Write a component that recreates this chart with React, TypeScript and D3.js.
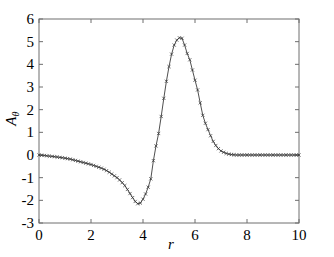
import { useRef, useEffect } from 'react';
import * as d3 from 'd3';

const rValues = d3.range(0, 101).map(i => i / 10);
const aTheta = [
  0, -0.01, -0.02, -0.035, -0.05, -0.06, -0.075, -0.09, -0.105, -0.12,
  -0.14, -0.16, -0.18, -0.21, -0.24, -0.27, -0.3, -0.33, -0.36, -0.39,
  -0.42, -0.46, -0.5, -0.54, -0.58, -0.63, -0.69, -0.76, -0.84, -0.92,
  -1.0, -1.1, -1.22, -1.35, -1.52, -1.7, -1.88, -2.05, -2.15, -2.12,
  -1.95, -1.72, -1.42, -1.05, -0.25, 0.4, 0.95, 1.7, 2.5, 3.25,
  3.9, 4.45, 4.85, 5.07, 5.17, 5.15, 4.85, 4.48, 4.2, 3.75,
  3.3, 2.87, 2.3, 1.75, 1.4, 1.12, 0.85, 0.6, 0.42, 0.28,
  0.18, 0.12, 0.07, 0.04, 0.02, 0.01, 0, 0, 0, 0,
  0, 0, 0, 0, 0, 0, 0, 0, 0, 0,
  0, 0, 0, 0, 0, 0, 0, 0, 0, 0,
  0,
];
const xTicks = [0, 2, 4, 6, 8, 10];
const yTicks = [-3, -2, -1, 0, 1, 2, 3, 4, 5, 6];

export default function App() {
  const svgRef = useRef<SVGSVGElement>(null);

  useEffect(() => {
    const width = 334;
    const height = 257;
    const m = { left: 39, right: 35, top: 19, bottom: 34 };
    const svg = d3.select(svgRef.current);
    svg.selectAll('*').remove();
    svg.attr('width', width).attr('height', height)
      .style('font-family', '"Liberation Serif", "DejaVu Serif", serif');

    const x = d3.scaleLinear().domain([0, 10]).range([m.left, width - m.right]);
    const y = d3.scaleLinear().domain([-3, 6]).range([height - m.bottom, m.top]);
    const frame = '#6e6e6e';

    svg.append('rect').attr('width', width).attr('height', height).attr('fill', 'white');

    const tickLen = 4;
    // ticks on all four sides, pointing inward
    xTicks.forEach(t => {
      svg.append('line').attr('x1', x(t)).attr('x2', x(t))
        .attr('y1', y(-3)).attr('y2', y(-3) - tickLen).attr('stroke', frame);
      svg.append('line').attr('x1', x(t)).attr('x2', x(t))
        .attr('y1', y(6)).attr('y2', y(6) + tickLen).attr('stroke', frame);
      svg.append('text').attr('x', x(t)).attr('y', y(-3) + 17)
        .attr('text-anchor', 'middle').style('font-size', '15px')
        .text(t);
    });
    yTicks.forEach(t => {
      svg.append('line').attr('x1', x(0)).attr('x2', x(0) + tickLen)
        .attr('y1', y(t)).attr('y2', y(t)).attr('stroke', frame);
      svg.append('line').attr('x1', x(10)).attr('x2', x(10) - tickLen)
        .attr('y1', y(t)).attr('y2', y(t)).attr('stroke', frame);
      svg.append('text').attr('x', x(0) - 5).attr('y', y(t) + 5)
        .attr('text-anchor', 'end').style('font-size', '15px')
        .text(t);
    });

    svg.append('rect')
      .attr('x', x(0)).attr('y', y(6))
      .attr('width', x(10) - x(0)).attr('height', y(-3) - y(6))
      .attr('fill', 'none').attr('stroke', frame).attr('stroke-width', 1);

    const pts = rValues.map((r, i) => [r, aTheta[i]] as [number, number]);
    const line = d3.line<[number, number]>().x(d => x(d[0])).y(d => y(d[1]));
    svg.append('path').datum(pts).attr('d', line)
      .attr('fill', 'none').attr('stroke', '#222').attr('stroke-width', 0.8);

    const s = 1.6;
    svg.append('g').selectAll('path').data(pts).enter().append('path')
      .attr('d', d => {
        const cx = x(d[0]);
        const cy = y(d[1]);
        return `M${cx - s},${cy - s}L${cx + s},${cy + s}M${cx - s},${cy + s}L${cx + s},${cy - s}`;
      })
      .attr('stroke', '#333').attr('stroke-width', 0.7).attr('fill', 'none');

    svg.append('text').attr('x', x(5) + 2).attr('y', height - 8)
      .attr('text-anchor', 'middle').style('font-style', 'italic')
      .style('font-size', '15px').text('r');

    const yl = svg.append('text')
      .attr('transform', `translate(16,${y(1.6)}) rotate(-90)`)
      .attr('text-anchor', 'middle').style('font-style', 'italic')
      .style('font-size', '15px');
    yl.append('tspan').text('A');
    yl.append('tspan').attr('dy', 3).style('font-size', '10px').text('θ');
  }, []);

  return <svg ref={svgRef} style={{ position: 'absolute', left: 0, top: 0 }} />;
}
